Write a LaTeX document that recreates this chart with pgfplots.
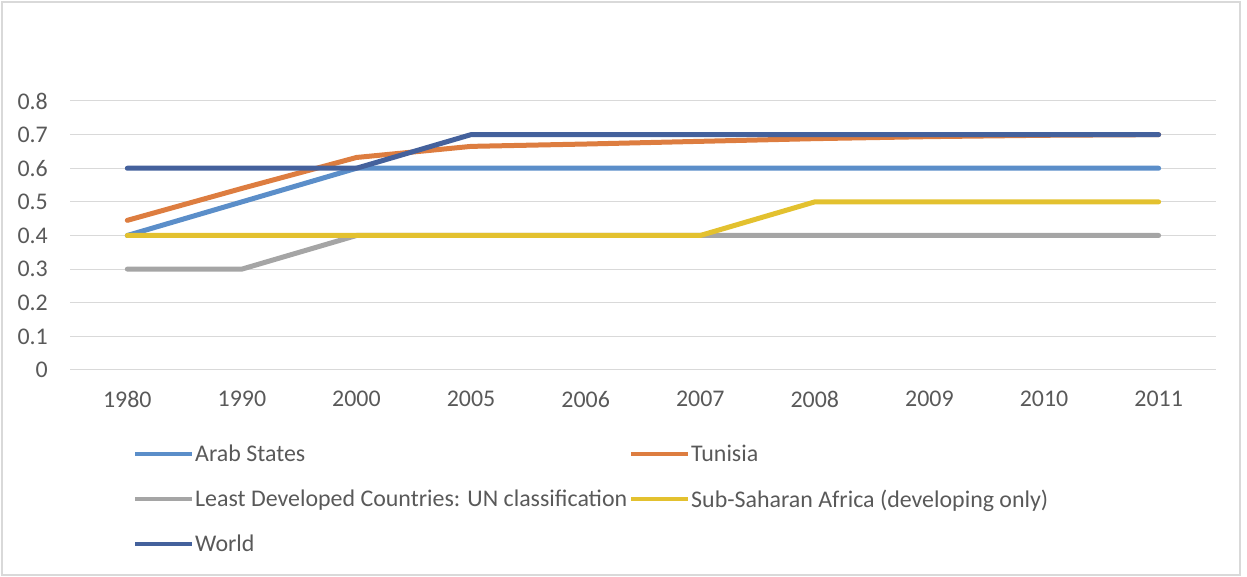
\documentclass[border=0pt]{standalone}
\usepackage{pgfplots}
\pgfplotsset{compat=1.18}
\usepackage{fontspec}
\setmainfont{Carlito}
\definecolor{cArab}{HTML}{5B8EC9}
\definecolor{cTun}{HTML}{DD7D40}
\definecolor{cLDC}{HTML}{A5A5A5}
\definecolor{cSSA}{HTML}{E3C12F}
\definecolor{cWorld}{HTML}{44619C}
\definecolor{cGrid}{HTML}{D9D9D9}
\definecolor{cText}{HTML}{595959}
\begin{document}
\begin{tikzpicture}[x=1bp,y=1bp]
\path[use as bounding box] (0,0) rectangle (1247,577);
\draw[color=cGrid, line width=1.5bp] (2,2) rectangle (1240,575);
\begin{axis}[
  at={(70bp,207bp)}, anchor=south west,
  scale only axis, width=1146bp, height=269bp,
  xmin=-0.5, xmax=9.5, ymin=0, ymax=0.8,
  xtick={0,...,9},
  xticklabels={1980,1990,2000,2005,2006,2007,2008,2009,2010,2011},
  ytick={0,0.1,...,0.8},
  axis line style={draw=none},
  ymajorgrids, grid style={color=cGrid, line width=1bp},
  major tick length=0pt,
  /pgf/number format/assume math mode=true,
  /pgf/number format/.cd, fixed, precision=1, /pgfplots/.cd,
  tick label style={font=\fontsize{24}{28}\selectfont, text=cText},
  y tick label style={inner sep=0pt, anchor=east, xshift=-22bp},
  x tick label style={inner sep=0pt, anchor=north, yshift=-21bp},
  every axis plot/.append style={line width=5bp, line cap=round, line join=round},
  legend columns=2,
  legend image code/.code={\draw[line width=4bp, line cap=butt] (0bp,0bp) -- (57bp,0bp);},
  legend style={at={(0,0)}, anchor=north west, xshift=63bp, yshift=-74bp,
    draw=none, fill=none, inner sep=0pt, row sep=24.5bp,
    font=\fontsize{24}{28}\selectfont, text=cText,
    nodes={inner sep=1bp, anchor=west},
    /tikz/every even column/.append style={column sep=1bp}},
]
\addplot[color=cArab] coordinates {(0,0.4)(1,0.5)(2,0.6)(3,0.6)(4,0.6)(5,0.6)(6,0.6)(7,0.6)(8,0.6)(9,0.6)};
\addlegendentry{Arab States}
\addplot[color=cTun] coordinates {(0,0.445)(1,0.54)(2,0.632)(3,0.665)(4,0.672)(5,0.68)(6,0.688)(7,0.694)(8,0.698)(9,0.70)};
\addlegendentry{Tunisia}
\addplot[color=cLDC] coordinates {(0,0.3)(1,0.3)(2,0.4)(3,0.4)(4,0.4)(5,0.4)(6,0.4)(7,0.4)(8,0.4)(9,0.4)};
\addlegendentry{Least Developed Countries: UN classification}
\addplot[color=cSSA] coordinates {(0,0.4)(1,0.4)(2,0.4)(3,0.4)(4,0.4)(5,0.4)(6,0.5)(7,0.5)(8,0.5)(9,0.5)};
\addlegendentry{Sub-Saharan Africa (developing only)}
\addplot[color=cWorld] coordinates {(0,0.6)(1,0.6)(2,0.6)(3,0.7)(4,0.7)(5,0.7)(6,0.7)(7,0.7)(8,0.7)(9,0.7)};
\addlegendentry{World}
\end{axis}
\end{tikzpicture}
\end{document}
